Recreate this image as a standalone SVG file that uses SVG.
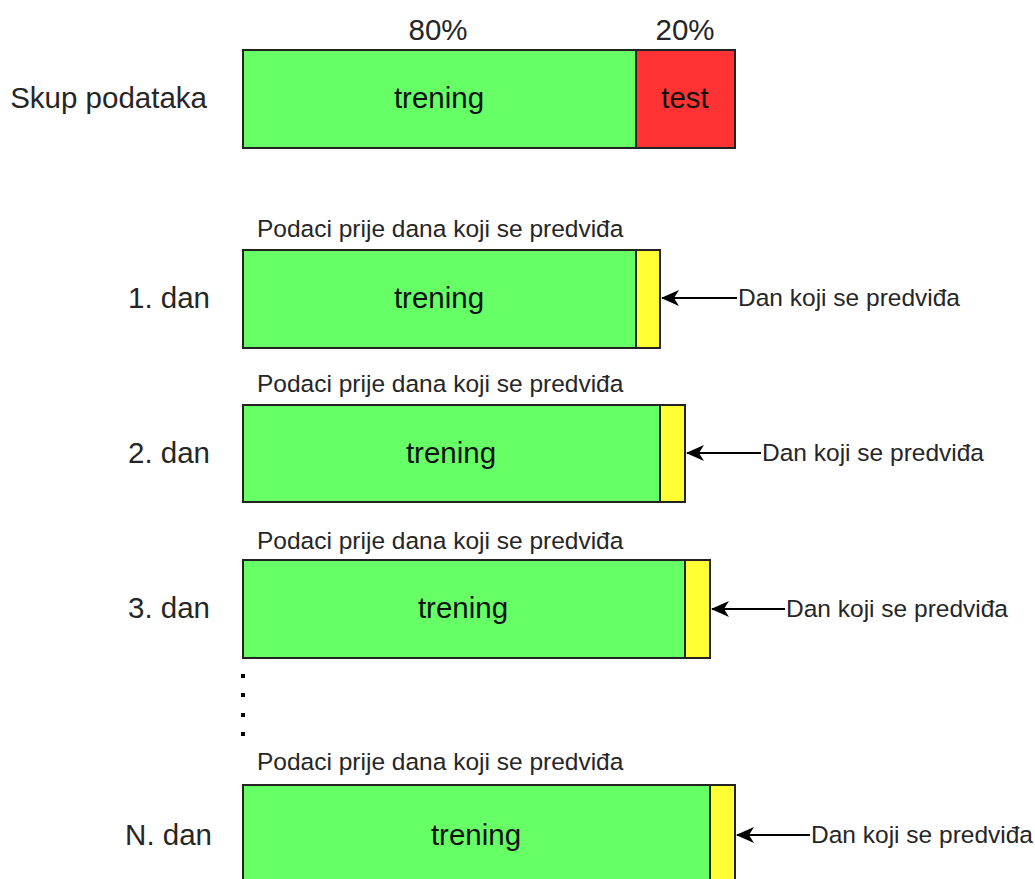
<svg xmlns="http://www.w3.org/2000/svg" width="1035" height="879" viewBox="0 0 1035 879">
<defs>
<style>
text{font-family:"Liberation Sans",Arial,sans-serif;fill:#262626}
.big{font-size:29.5px}
.sm{font-size:24.5px}
.in{fill:#111}
.g{fill:#66ff66;stroke:#222;stroke-width:2}
.r{fill:#ff3333;stroke:#222;stroke-width:2}
.y{fill:#ffff33;stroke:#222;stroke-width:2}
.c{stroke:#000;stroke-width:2;fill:none}
</style>
<marker id="ah" viewBox="0 0 18 16" refX="17" refY="8" markerWidth="18" markerHeight="16" markerUnits="userSpaceOnUse" orient="auto">
<path d="M0,0 L18,8 L0,16 L5,8 Z" fill="#000"/>
</marker>
</defs>
<rect width="1035" height="879" fill="#fff"/>

<g id="row0">
<text class="big" x="438" y="40" text-anchor="middle">80%</text>
<text class="big" x="685" y="40" text-anchor="middle">20%</text>
<text class="big" x="207" y="108" text-anchor="end">Skup podataka</text>
<rect class="g" x="243" y="50" width="393" height="98"/>
<rect class="r" x="636" y="50" width="99" height="98"/>
<text class="big in" x="439" y="108" text-anchor="middle">trening</text>
<text class="big in" x="685" y="108" text-anchor="middle">test</text>
</g>

<g id="row1">
<text class="sm" x="257" y="237">Podaci prije dana koji se predviđa</text>
<text class="big" x="210" y="308" text-anchor="end">1. dan</text>
<rect class="g" x="243" y="250" width="393" height="98"/>
<rect class="y" x="636" y="250" width="24" height="98"/>
<text class="big in" x="439" y="308" text-anchor="middle">trening</text>
<text class="sm" x="738" y="306">Dan koji se predviđa</text>
</g>

<g id="row2">
<text class="sm" x="257" y="392">Podaci prije dana koji se predviđa</text>
<text class="big" x="210" y="463" text-anchor="end">2. dan</text>
<rect class="g" x="243" y="405" width="417" height="97"/>
<rect class="y" x="660" y="405" width="25" height="97"/>
<text class="big in" x="451" y="463" text-anchor="middle">trening</text>
<text class="sm" x="762" y="461">Dan koji se predviđa</text>
</g>

<g id="row3">
<text class="sm" x="257" y="549">Podaci prije dana koji se predviđa</text>
<text class="big" x="210" y="618" text-anchor="end">3. dan</text>
<rect class="g" x="243" y="560" width="442" height="98"/>
<rect class="y" x="685" y="560" width="25" height="98"/>
<text class="big in" x="463" y="618" text-anchor="middle">trening</text>
<text class="sm" x="786" y="617">Dan koji se predviđa</text>
</g>

<g id="dots" fill="#000">
<rect x="241" y="674" width="4" height="4"/>
<rect x="241" y="693" width="4" height="4"/>
<rect x="241" y="713" width="4" height="4"/>
<rect x="241" y="732" width="4" height="4"/>
</g>

<g id="rowN">
<text class="sm" x="257" y="770">Podaci prije dana koji se predviđa</text>
<text class="big" x="212" y="845" text-anchor="end">N. dan</text>
<rect class="g" x="243" y="785" width="467" height="100"/>
<rect class="y" x="710" y="785" width="25" height="100"/>
<text class="big in" x="476" y="845" text-anchor="middle">trening</text>
<text class="sm" x="811" y="843">Dan koji se predviđa</text>
</g>

<g id="connectors">
<line class="c" x1="737" y1="298" x2="662" y2="298" marker-end="url(#ah)"/>
<line class="c" x1="761" y1="453" x2="687" y2="453" marker-end="url(#ah)"/>
<line class="c" x1="785" y1="609" x2="712" y2="609" marker-end="url(#ah)"/>
<line class="c" x1="810" y1="835" x2="737" y2="835" marker-end="url(#ah)"/>
</g>
</svg>
